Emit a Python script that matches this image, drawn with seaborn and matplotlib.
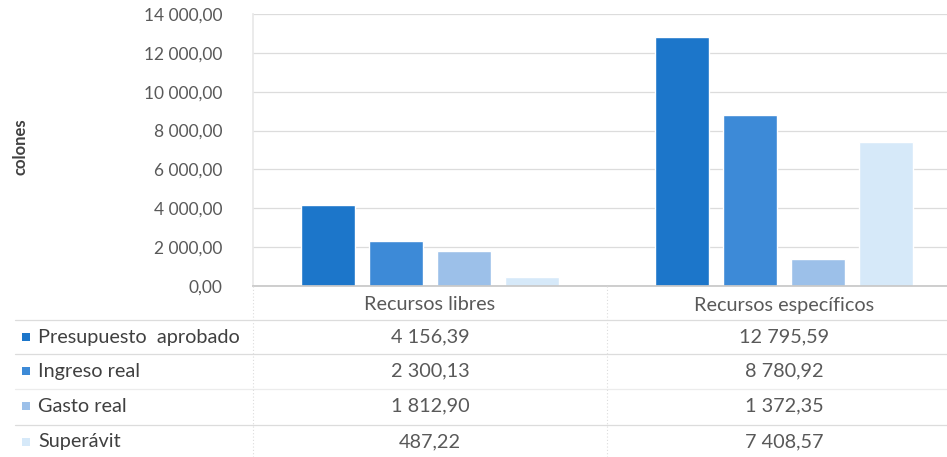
import matplotlib
matplotlib.use("Agg")
import matplotlib.pyplot as plt
import seaborn as sns
import pandas as pd
from matplotlib.lines import Line2D
from matplotlib.patches import Rectangle

# Budget execution data (colones)
categories = ["Recursos libres", "Recursos específicos"]
series = ["Presupuesto  aprobado", "Ingreso real", "Gasto real", "Superávit"]
presupuesto = [4156.39, 12795.59]
ingreso = [2300.13, 8780.92]
gasto = [1812.90, 1372.35]
superavit = [487.22, 7408.57]
y_ticks = [0, 2000, 4000, 6000, 8000, 10000, 12000, 14000]
colors = ["#1c76ca", "#3d8ad7", "#9cc0e9", "#d6e9f9"]

values = [presupuesto, ingreso, gasto, superavit]
df = pd.DataFrame(
    [(c, s, v[i]) for s, v in zip(series, values) for i, c in enumerate(categories)],
    columns=["categoria", "serie", "valor"],
)


def fmt(v):
    s = f"{v:,.2f}"
    return s.replace(",", " ").replace(".", ",")


sns.set_theme(style="white")
plt.rcParams["font.family"] = ["Lato", "DejaVu Sans"]
text_color = "#595959"
grid_color = "#dcdcdc"
faint = "#e8e8e8"

W, H = 947, 457
fig = plt.figure(figsize=(W / 100, H / 100), dpi=100)
fig.patch.set_facecolor("white")

# plot area in pixel coordinates (right edge runs past the canvas)
px_l, px_r, px_t, px_b = 253, 961, 14, 286
px_mid = (px_l + px_r) / 2
ax = fig.add_axes([px_l / W, 1 - px_b / H, (px_r - px_l) / W, (px_b - px_t) / H])

sns.barplot(data=df, x="categoria", y="valor", hue="serie", palette=colors,
            order=categories, hue_order=series, width=0.77, gap=0.2,
            saturation=1, ax=ax, legend=False)

ax.set_ylim(0, 14000)
ax.set_yticks(y_ticks)
ax.set_yticklabels([fmt(t) for t in y_ticks], fontsize=12.5, color=text_color)
ax.set_xlim(-0.5, 1.5)
ax.set_xticks([])
ax.set_xlabel("")
ax.set_ylabel("")
ax.tick_params(axis="y", length=4, color=grid_color, pad=18)
ax.yaxis.grid(True, color=grid_color, linewidth=0.9)
ax.set_axisbelow(True)
for side in ["top", "right"]:
    ax.spines[side].set_visible(False)
ax.spines["left"].set_color(faint)
ax.spines["bottom"].set_color("#c8c8c8")


def fx(px):
    return px / W


def fy(py):
    return 1 - py / H


fig.text(fx(20), fy(147), "colones", rotation=90, ha="center", va="center",
         fontsize=12, fontweight="bold", color="#404040")

# data table below the plot
col_mid = [(px_l + px_mid) / 2, (px_mid + px_r) / 2]
header_y = 305
row_y = [337, 371, 406, 442]
row_lines = [(320, grid_color), (354, grid_color), (389, "#ececec"), (425, grid_color)]
tfs = 14.3

for i, c in enumerate(categories):
    fig.text(fx(col_mid[i]), fy(header_y), c, ha="center", va="center",
             fontsize=tfs, color=text_color)

for yl, col in row_lines:
    fig.add_artist(Line2D([fx(15), fx(px_r)], [fy(yl), fy(yl)], color=col,
                          linewidth=0.9, transform=fig.transFigure))
for xl in [px_l, px_mid]:
    fig.add_artist(Line2D([fx(xl), fx(xl)], [fy(px_b), fy(H)], color=grid_color,
                          linewidth=0.8, linestyle=(0, (1, 2)),
                          transform=fig.transFigure))

for r, (s, v) in enumerate(zip(series, values)):
    yc = row_y[r]
    fig.add_artist(Rectangle((fx(22), fy(yc + 4)), fx(8), 8 / H,
                             facecolor=colors[r], edgecolor="none",
                             transform=fig.transFigure))
    fig.text(fx(38), fy(yc), s, ha="left", va="center", fontsize=tfs,
             color="#404040")
    for i in range(len(categories)):
        fig.text(fx(col_mid[i]), fy(yc), fmt(v[i]), ha="center", va="center",
                 fontsize=tfs, color=text_color)

fig.savefig("out.png", dpi=100, facecolor="white")
